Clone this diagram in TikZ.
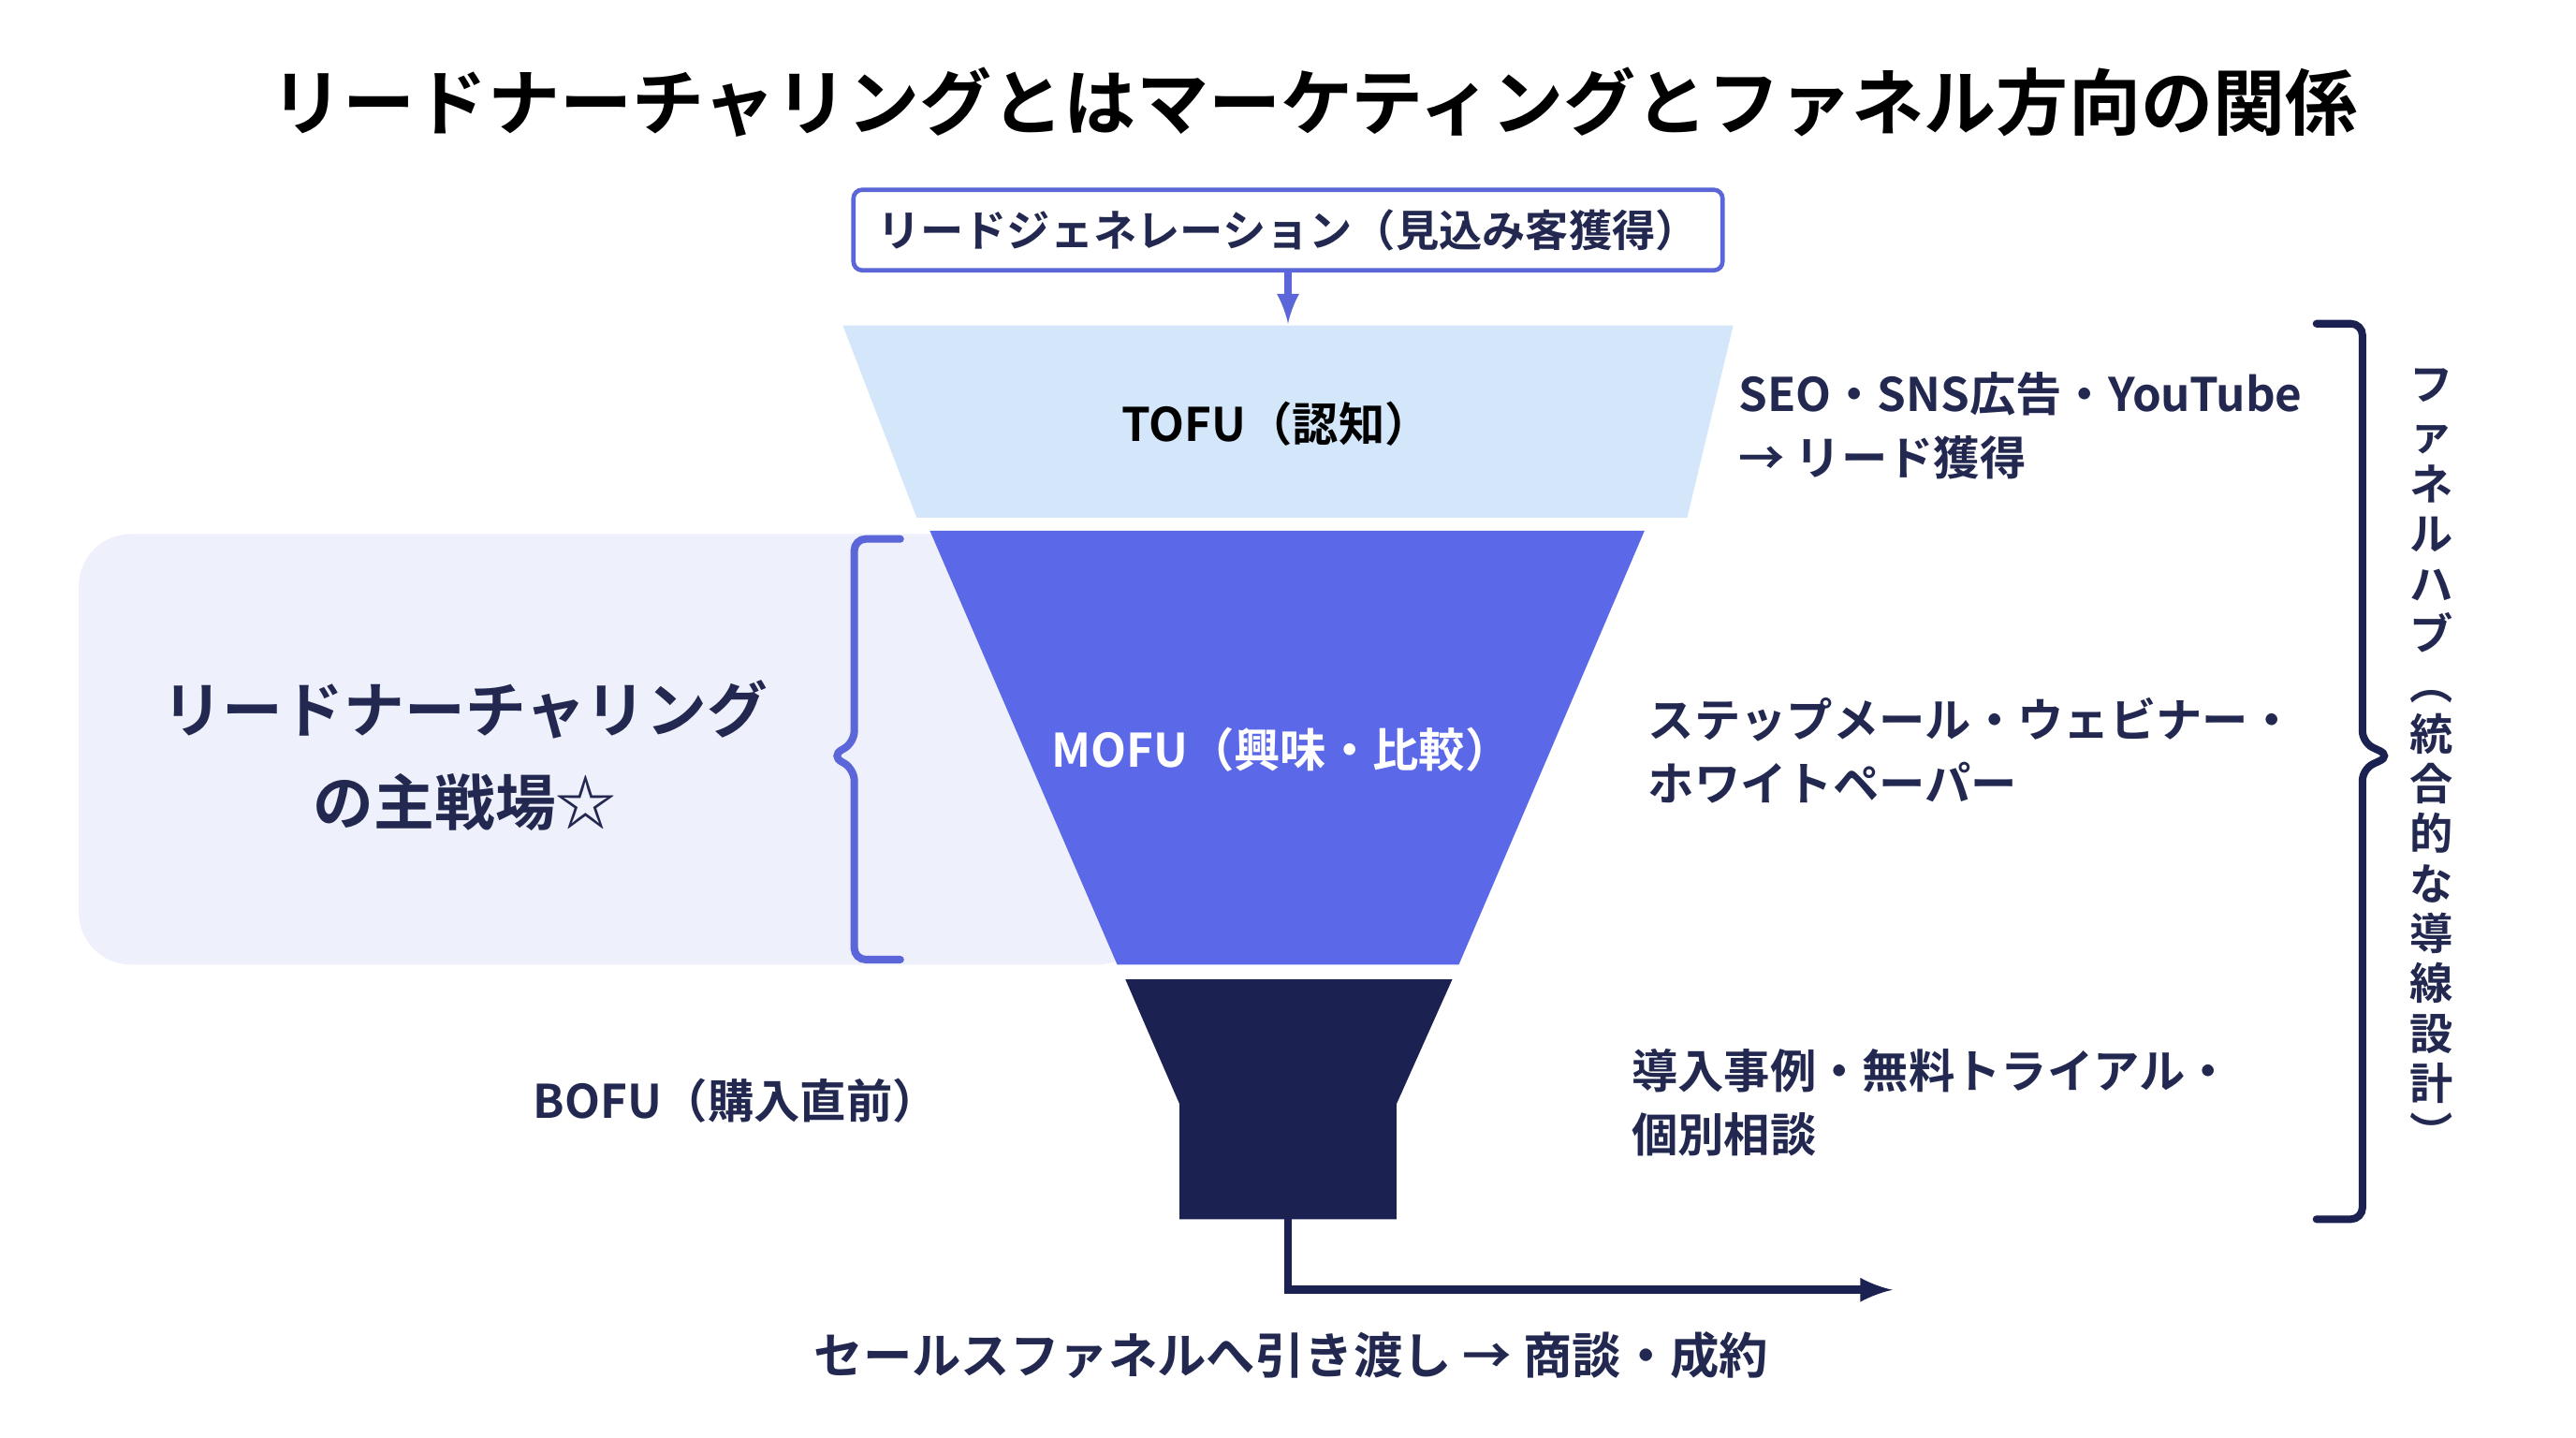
\documentclass[tikz,border=0pt]{standalone}
\usepackage{fontspec}
\setmainfont{Noto Sans CJK JP}[BoldFont=* Bold]
\usetikzlibrary{positioning}
\definecolor{navy}{HTML}{1B2150}
\definecolor{ink}{HTML}{22284F}
\definecolor{lineblue}{HTML}{5B66D8}
\definecolor{tofu}{HTML}{D4E6FA}
\definecolor{mofu}{HTML}{5B68E8}
\definecolor{pale}{HTML}{EEF0FB}
\tikzset{
  lbl/.style={font=\bfseries\fontsize{16}{22}\selectfont,text=ink,align=left,anchor=west},
  side/.style={rounded corners=4pt,line width=2.6pt,line cap=round}
}
\begin{document}
\begin{tikzpicture}[x=0.02cm,y=-0.02cm,>=latex]
	\useasboundingbox[fill=white] (0,0) rectangle (1568,875);
	\node (title) at (800,62) {\bfseries\fontsize{25}{30}\selectfont リードナーチャリングとはマーケティングとファネル方向の関係};
	% left highlight
	\fill[pale,rounded corners=18pt] (48,325) rectangle (700,587);
	\node[align=center,text=ink,font=\bfseries\fontsize{21}{32}\selectfont] (main) at (283,460) {リードナーチャリング\\の主戦場☆};
	% funnel
	\fill[tofu] (513,198) -- (1055,198) -- (1027,315) -- (558,315) -- cycle;
	\fill[mofu] (566,323) -- (1001,323) -- (888,587) -- (680,587) -- cycle;
	\fill[navy] (685,596) -- (884,596) -- (850,672) -- (850,742) -- (718,742) -- (718,672) -- cycle;
	\node (tofu) at (777,258) {\bfseries\fontsize{16}{20}\selectfont TOFU（認知）};
	\node[text=white] (mofu) at (780,456) {\bfseries\fontsize{16}{20}\selectfont MOFU（興味・比較）};
	\node[text=ink] (bofu) at (448,670) {\bfseries\fontsize{16}{20}\selectfont BOFU（購入直前）};
	\coordinate (bofuout) at (784,742);
	% lead generation
	\node[draw=lineblue,line width=1.5pt,rounded corners=3pt,minimum width=529*0.02cm,minimum height=49*0.02cm,text=ink] (gen) at (784,140) {\bfseries\fontsize{15}{18}\selectfont リードジェネレーション（見込み客獲得）};
	\coordinate (ftop) at (784,197);
	\draw[->,lineblue,line width=2.5pt] (gen) -- (ftop);
	% to sales
	\coordinate (sales) at (1152,785);
	\draw[->,navy,line width=2.8pt] (bofuout) |- (sales);
	\node[text=ink] (deal) at (786,825) {\bfseries\fontsize{17}{20}\selectfont セールスファネルへ引き渡し → 商談・成約};
	% right texts
	\node[lbl] (t1) at (1052,259) {SEO・SNS広告・YouTube\\→ リード獲得};
	\node[lbl] (t2) at (997,457) {ステップメール・ウェビナー・\\ホワイトペーパー};
	\node[lbl] (t3) at (987,671) {導入事例・無料トライアル・\\個別相談};
	% braces
	\draw[side,lineblue] (548,328) -| (520,452) -- (506,460) -- (520,468) |- (548,584);
	\draw[side,navy] (1410,197) -| (1438,452) -- (1455,460) -- (1438,468) |- (1410,742);
	\node[align=center,text=ink,font=\bfseries\fontsize{15}{17.3}\selectfont] (hub) at (1480,462) {フ\\ァ\\ネ\\ル\\ハ\\ブ\\︵\\統\\合\\的\\な\\導\\線\\設\\計\\︶};
\end{tikzpicture}
\end{document}
